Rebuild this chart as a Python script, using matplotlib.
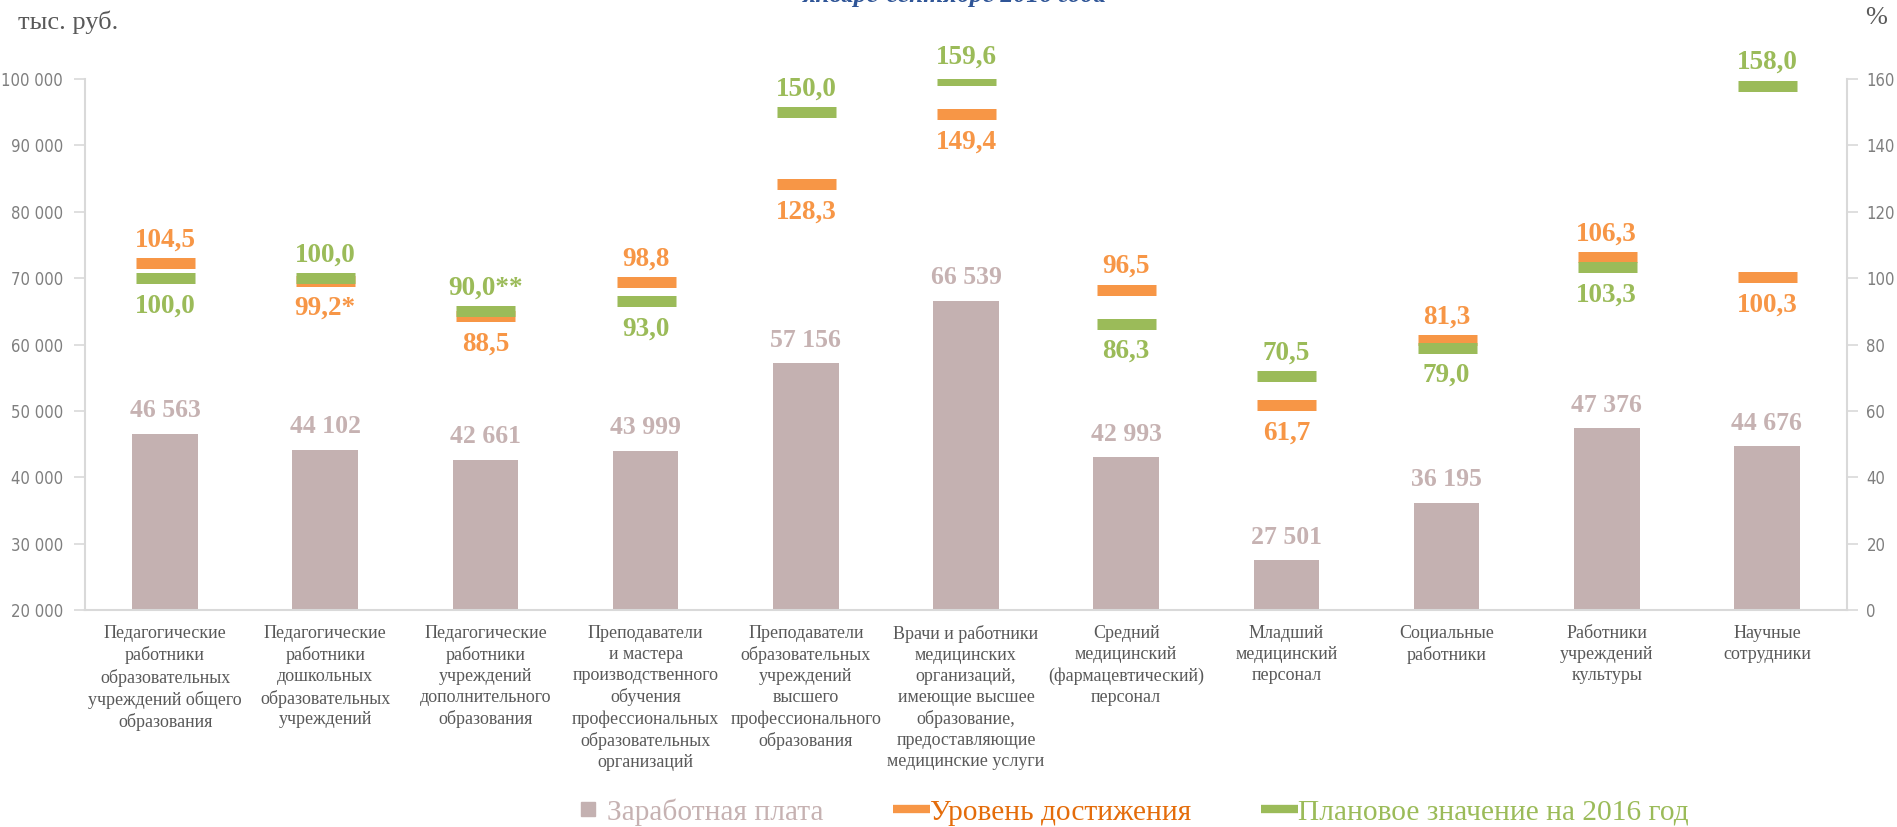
import numpy as np
import matplotlib
matplotlib.use("Agg")
import matplotlib.pyplot as plt
from matplotlib.lines import Line2D
from matplotlib import font_manager as fm

plt.rcParams['font.family'] = ['Liberation Serif', 'DejaVu Serif']

categories = [
    "Педагогические\nработники\nобразовательных\nучреждений общего\nобразования",
    "Педагогические\nработники\nдошкольных\nобразовательных\nучреждений",
    "Педагогические\nработники\nучреждений\nдополнительного\nобразования",
    "Преподаватели\nи мастера\nпроизводственного\nобучения\nпрофессиональных\nобразовательных\nорганизаций",
    "Преподаватели\nобразовательных\nучреждений\nвысшего\nпрофессионального\nобразования",
    "Врачи и работники\nмедицинских\nорганизаций,\nимеющие высшее\nобразование,\nпредоставляющие\nмедицинские услуги",
    "Средний\nмедицинский\n(фармацевтический)\nперсонал",
    "Младший\nмедицинский\nперсонал",
    "Социальные\nработники",
    "Работники\nучреждений\nкультуры",
    "Научные\nсотрудники",
]
salary = [46563, 44102, 42661, 43999, 57156, 66539, 42993, 27501, 36195, 47376, 44676]
achieved = [104.5, 99.2, 88.5, 98.8, 128.3, 149.4, 96.5, 61.7, 81.3, 106.3, 100.3]
achieved_note = ["", "*", "", "", "", "", "", "", "", "", ""]
plan = [100.0, 100.0, 90.0, 93.0, 150.0, 159.6, 86.3, 70.5, 79.0, 103.3, 158.0]
plan_note = ["", "", "**", "", "", "", "", "", "", "", ""]
left_ticks = [20000, 30000, 40000, 50000, 60000, 70000, 80000, 90000, 100000]
right_ticks = [0, 20, 40, 60, 80, 100, 120, 140, 160]
legend_labels = ["Заработная плата", "Уровень достижения", "Плановое значение на 2016 год"]
title_text = "январе-сентябре 2016 года"

BAR_C = "#C4B1B1"
SAL_TXT = "#C6B2B2"
ORANGE = "#F79646"
GREEN = "#9BBB59"
AXIS_C = "#D9D9D9"
TICK_TXT = "#7F7F7F"

names = {f.name for f in fm.fontManager.ttflist}
if "Liberation Sans Narrow" in names:
    tick_font = dict(family="Liberation Sans Narrow", size=15.5)
else:
    tick_font = dict(family="DejaVu Sans", size=12, stretch="condensed")

W, H = 1897, 827
fig = plt.figure(figsize=(W / 100, H / 100), dpi=100)
ax = fig.add_axes([85 / W, 1 - 610 / H, (1847 - 85) / W, (610 - 79) / H])

x = np.arange(len(categories))
ax.bar(x, salary, width=0.41, color=BAR_C, zorder=2)
ax.set_xlim(-0.5, len(categories) - 0.5)
ax.set_ylim(left_ticks[0], left_ticks[-1])
ax.set_yticks(left_ticks)
ax.set_yticklabels([f"{v:,}".replace(",", " ") for v in left_ticks], color=TICK_TXT, **tick_font)
ax.set_xticks(x)
ax.set_xticklabels(categories, fontsize=13, color="#595959", linespacing=1.3, va="top")
ax.tick_params(axis="x", length=0, pad=11)
ax.tick_params(axis="y", length=8, color=AXIS_C, width=1.2, pad=8)
for s in ["top", "right"]:
    ax.spines[s].set_visible(False)
for s in ["left", "bottom"]:
    ax.spines[s].set_color(AXIS_C)
    ax.spines[s].set_linewidth(1.5)

for xi, v in zip(x, salary):
    ax.annotate(f"{v:,}".replace(",", " "), (xi, v), xytext=(0, 12), textcoords="offset points",
                ha="center", va="baseline", fontsize=18.5, fontweight="bold", color=SAL_TXT)

ax2 = ax.twinx()
ax2.set_ylim(right_ticks[0], right_ticks[-1])
ax2.set_yticks(right_ticks)
ax2.set_yticklabels([str(v) for v in right_ticks], color=TICK_TXT, **tick_font)
ax2.tick_params(axis="y", length=8, color=AXIS_C, width=1.2, pad=6)
for s in ["top", "left", "bottom"]:
    ax2.spines[s].set_visible(False)
ax2.spines["right"].set_color(AXIS_C)
ax2.spines["right"].set_linewidth(1.5)

ms, mew = 59 * 0.72, 11 * 0.72
ax2.plot(x, achieved, ls="none", marker="_", ms=ms, mew=mew, color=ORANGE, zorder=3)
ax2.plot(x, plan, ls="none", marker="_", ms=ms, mew=mew, color=GREEN, zorder=4)

for xi, a, an, p, pn in zip(x, achieved, achieved_note, plan, plan_note):
    a_txt = f"{a:.1f}".replace(".", ",") + an
    p_txt = f"{p:.1f}".replace(".", ",") + pn
    if a > p:
        up, up_c, up_v, dn, dn_c, dn_v = a_txt, ORANGE, a, p_txt, GREEN, p
    else:
        up, up_c, up_v, dn, dn_c, dn_v = p_txt, GREEN, p, a_txt, ORANGE, a
    ax2.annotate(up, (xi, up_v), xytext=(0, 12), textcoords="offset points",
                 ha="center", va="baseline", fontsize=19.5, fontweight="bold", color=up_c)
    ax2.annotate(dn, (xi, dn_v), xytext=(0, -11), textcoords="offset points",
                 ha="center", va="top", fontsize=19.5, fontweight="bold", color=dn_c)

fig.text(18 / W, 1 - 22 / H, "тыс. руб.", fontsize=19, color="#595959", ha="left", va="center")
fig.text(1876 / W, 1 - 18 / H, "%", fontsize=19, color="#595959", ha="center", va="center")
fig.text(955 / W, 1 - 2 / H, title_text, fontsize=18.5, fontweight="bold", fontstyle="italic",
         color="#2F5597", ha="center", va="baseline")

handles = [
    Line2D([], [], ls="none", marker="s", ms=10, color=BAR_C),
    Line2D([], [], lw=6, color=ORANGE, solid_capstyle="butt"),
    Line2D([], [], lw=6, color=GREEN, solid_capstyle="butt"),
]
leg = fig.legend(handles, legend_labels, loc="center left", bbox_to_anchor=(570 / W, 1 - 812 / H),
                 ncol=3, frameon=False, fontsize=21.2, handlelength=1.25, handletextpad=0.02,
                 columnspacing=2.35, borderpad=0, borderaxespad=0)
for t, c in zip(leg.get_texts(), [SAL_TXT, "#E46C0A", GREEN]):
    t.set_color(c)

fig.savefig("out.png", dpi=100)
